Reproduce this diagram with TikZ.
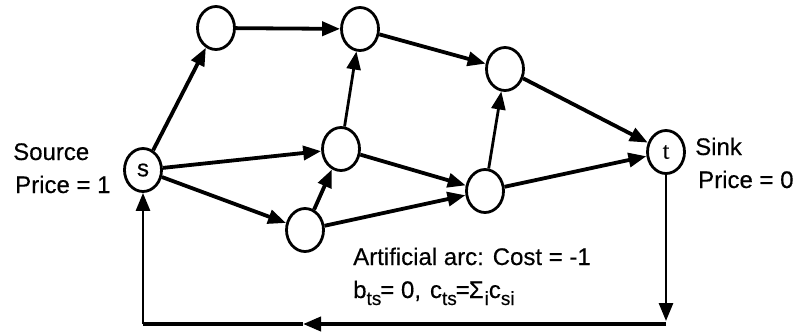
\documentclass[tikz,border=0pt]{standalone}
\usepackage{fontspec}
\setmainfont{Liberation Sans}[FakeBold=0.4]
\newfontfamily\tfont{Liberation Serif}[FakeBold=0.4]
\usetikzlibrary{arrows.meta,shapes.geometric}
\newcommand\lowsub[1]{\raisebox{-7pt}{\fontsize{19}{19}\selectfont #1}}
\begin{document}
\begin{tikzpicture}[x=1pt,y=-1pt,
  vtx/.style={ellipse,draw,line width=2.8pt,minimum width=37pt,minimum height=43pt,inner sep=0pt,font=\fontsize{24}{24}\selectfont},
  arc/.style={line width=3.8pt,-{Triangle[length=18pt,width=14pt]}},
  thinarc/.style={line width=2.8pt,-{Triangle[length=18pt,width=14pt]}},
  lbl/.style={anchor=base west,inner sep=0pt,font=\fontsize{24}{24}\selectfont}]
\useasboundingbox (0,0) rectangle (797,335);
\node[vtx] (s) at (143,170) {s};
\node[vtx] (A) at (216,28) {};
\node[vtx] (B) at (360,29) {};
\node[vtx] (C) at (505,69) {};
\node[vtx] (D) at (341,149) {};
\node[vtx] (E) at (305,230) {};
\node[vtx] (F) at (485,191) {};
\node[vtx] (t) at (666,152) {\tfont t};
\draw[arc] (s) -- (A);
\draw[arc] (A) -- (B);
\draw[arc] (B) -- (C);
\draw[arc] (C) -- (t);
\draw[arc] (s) -- (D);
\draw[arc] (s) -- (E);
\draw[arc] (E) -- (D);
\draw[thinarc] (D) -- (B);
\draw[arc] (D) -- (F);
\draw[arc] (E) -- (F);
\draw[thinarc] (F) -- (C);
\draw[arc] (F) -- (t);
\coordinate (td) at (666,321);
\coordinate (br) at (666,324);
\coordinate (bm) at (303,324);
\coordinate (bl) at (143,324);
\draw[thinarc] (t) -- (td);
\draw[arc] (br) -- (bm);
\draw[line width=3.8pt] (bm) -- (bl);
\draw[thinarc] (bl) -- (s);
\node[lbl] (src) at (13,160) {Source};
\node[lbl] (srcp) at (15,193) {Price = 1};
\node[lbl] (snk) at (695,155) {Sink};
\node[lbl] (snkp) at (698,188) {Price = 0};
\node[lbl] (art) at (353,265) {Artificial arc: Cost = -1};
\node[lbl] (bts) at (353,298) {b\lowsub{ts}\hspace{-1pt}= 0,\hspace{9pt}c\lowsub{ts}\hspace{-1pt}=\hspace{-1pt}Σ\lowsub{\hspace{1pt}i}c\lowsub{si}};
\end{tikzpicture}
\end{document}
